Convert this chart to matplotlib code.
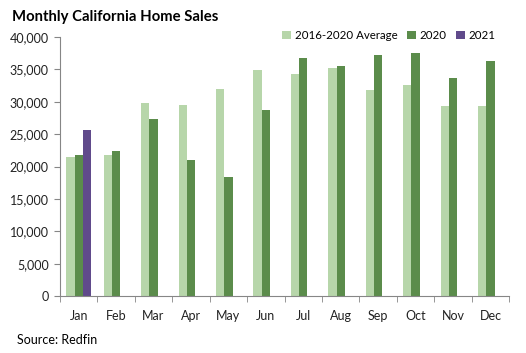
import matplotlib.pyplot as plt
import numpy as np
from matplotlib.ticker import FuncFormatter, FixedLocator

plt.rcParams['font.family'] = ['Lato', 'DejaVu Sans']

months = ["Jan", "Feb", "Mar", "Apr", "May", "Jun",
          "Jul", "Aug", "Sep", "Oct", "Nov", "Dec"]
avg_2016_2020 = [21500, 21850, 29800, 29500, 32000, 34900,
                 34300, 35200, 31800, 32600, 29300, 29300]
sales_2020 = [21850, 22400, 27400, 21000, 18400, 28700,
              36800, 35500, 37200, 37500, 33700, 36300]
sales_2021 = [25650]

series_labels = ["2016-2020 Average", "2020", "2021"]
colors = ["#B7D6AA", "#5B8C4B", "#604A8B"]
axis_grey = "#868686"

fig = plt.figure(figsize=(5.26, 3.53), dpi=100)
ax = fig.add_axes([0.114, 0.161, 0.854, 0.734])

x = np.arange(len(months))
width = 0.222
ax.bar(x - width, avg_2016_2020, width, color=colors[0], label=series_labels[0])
ax.bar(x, sales_2020, width, color=colors[1], label=series_labels[1])
ax.bar(x[:len(sales_2021)] + width, sales_2021, width, color=colors[2],
       label=series_labels[2])

ax.set_xlim(-0.5, len(months) - 0.5)
ax.set_ylim(0, 40000)
ax.set_yticks(np.arange(0, 40001, 5000))
ax.yaxis.set_major_formatter(FuncFormatter(lambda v, _: f"{int(v):,}"))

ax.set_xticks(x)
ax.set_xticklabels(months)
ax.xaxis.set_minor_locator(FixedLocator(np.arange(-0.5, len(months), 1)))
ax.tick_params(axis='x', which='major', length=0, pad=10, labelsize=9, colors='#222222')
ax.tick_params(axis='x', which='minor', length=4, direction='out', color=axis_grey)
ax.tick_params(axis='y', length=4, direction='out', color=axis_grey, pad=4,
               labelsize=9, labelcolor='#222222')

for side in ('top', 'right'):
    ax.spines[side].set_visible(False)
for side in ('left', 'bottom'):
    ax.spines[side].set_color(axis_grey)

ax.legend(loc='upper right', bbox_to_anchor=(0.98, 1.045), ncol=3, frameon=False,
          fontsize=8.3, handlelength=0.75, handleheight=0.75, handletextpad=0.35,
          columnspacing=0.8, borderaxespad=0)

fig.text(0.023, 0.952, "Monthly California Home Sales", fontsize=10.7,
         fontweight='bold', va='center', ha='left')
fig.text(0.032, 0.037, "Source: Redfin", fontsize=9, va='center', ha='left')

fig.savefig("out.png", dpi=100)
